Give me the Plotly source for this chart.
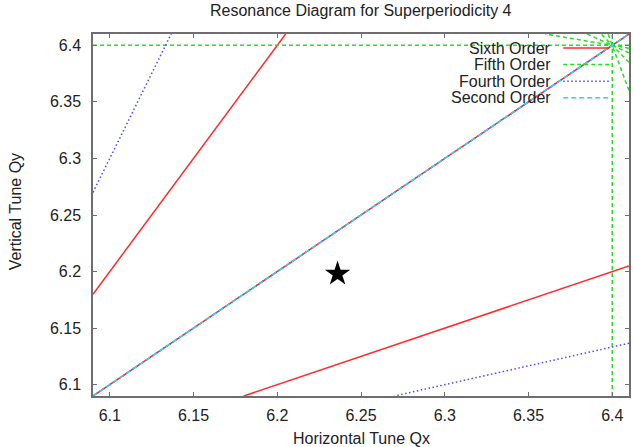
import plotly.graph_objects as go

# Tune window shown on both axes
QX_RANGE = [6.09, 6.41]
QY_RANGE = [6.09, 6.41]

# Resonance lines m*Qx + n*Qy = r for superperiodicity 4, grouped by order
SIXTH_ORDER = [(4, -2, 12), (2, -4, -12), (3, -3, 0)]
FIFTH_ORDER = [(5, 0, 32), (0, 5, 32), (4, 1, 32), (3, 2, 32), (2, 3, 32), (1, 4, 32)]
FOURTH_ORDER = [(3, -1, 12), (1, -3, -12), (2, -2, 0)]
SECOND_ORDER = [(1, -1, 0)]

# Working point
WORK_QX = [6.236]
WORK_QY = [6.198]

TICK_VALS = [6.1, 6.15, 6.2, 6.25, 6.3, 6.35, 6.4]
TICK_TEXT = ["6.1", "6.15", "6.2", "6.25", "6.3", "6.35", "6.4"]

ORDER_NAMES = ["Sixth Order", "Fifth Order", "Fourth Order", "Second Order"]
ORDER_LINES = [SIXTH_ORDER, FIFTH_ORDER, FOURTH_ORDER, SECOND_ORDER]
ORDER_STYLE = [
    dict(color="#ff2a2a", width=1.5, dash="solid"),
    dict(color="#22e022", width=1.5, dash="4px,3px"),
    dict(color="#4a4aff", width=1.5, dash="1.5px,2.5px"),
    dict(color="#2ad8ea", width=1.5, dash="5px,3px"),
]

FONT = "Liberation Sans, Arial, Helvetica, sans-serif"


def clip_line(m, n, r, xr, yr):
    """End points of m*x + n*y = r inside the box xr x yr."""
    pts = []
    if n != 0:
        for x in xr:
            y = (r - m * x) / n
            if yr[0] - 1e-12 <= y <= yr[1] + 1e-12:
                pts.append((x, y))
    if m != 0:
        for y in yr:
            x = (r - n * y) / m
            if xr[0] - 1e-12 <= x <= xr[1] + 1e-12:
                pts.append((x, y))
    uniq = []
    for p in pts:
        if all(abs(p[0] - q[0]) > 1e-9 or abs(p[1] - q[1]) > 1e-9 for q in uniq):
            uniq.append(p)
    return uniq[:2]


fig = go.Figure()

for name, lines, style in zip(ORDER_NAMES, ORDER_LINES, ORDER_STYLE):
    xs, ys = [], []
    for m, n, r in lines:
        seg = clip_line(m, n, r, QX_RANGE, QY_RANGE)
        if len(seg) == 2:
            xs += [seg[0][0], seg[1][0], None]
            ys += [seg[0][1], seg[1][1], None]
    fig.add_trace(go.Scatter(x=xs, y=ys, mode="lines", name=name,
                             line=style, showlegend=False, hoverinfo="skip"))

fig.add_trace(go.Scatter(x=WORK_QX, y=WORK_QY, mode="markers", showlegend=False,
                         marker=dict(symbol="star", size=19, color="black")))

# Plot-area geometry in pixels
W, H = 633, 447
L, R, T, B = 93, 2, 34, 51
PW, PH = W - L - R, H - T - B


def px_x(p):
    return (p - L) / PW


def px_y(p):
    return 1 - (p - T) / PH


# Key in the upper right: right-aligned labels followed by line samples
shapes = []
annotations = []
for i, (name, style) in enumerate(zip(ORDER_NAMES, ORDER_STYLE)):
    yy = px_y(48 + 16.6 * i)
    annotations.append(dict(text=name, x=px_x(555), y=yy, xref="paper", yref="paper",
                            xanchor="right", yanchor="middle", showarrow=False,
                            font=dict(family=FONT, size=16, color="#222")))
    shapes.append(dict(type="line", xref="paper", yref="paper",
                       x0=px_x(565), x1=px_x(611), y0=yy, y1=yy,
                       line=dict(color=style["color"], width=style["width"],
                                 dash=style["dash"])))

annotations.append(dict(text="Horizontal Tune Qx", x=0.5, y=px_y(438), xref="paper",
                        yref="paper", xanchor="center", yanchor="middle", showarrow=False,
                        font=dict(family=FONT, size=16, color="#222")))
annotations.append(dict(text="Vertical Tune Qy", x=px_x(15), y=px_y(212), xref="paper",
                        yref="paper", xanchor="center", yanchor="middle", showarrow=False,
                        textangle=-90, font=dict(family=FONT, size=16, color="#222")))
annotations.append(dict(text="Resonance Diagram for Superperiodicity 4", x=0.5, y=px_y(11),
                        xref="paper", yref="paper", xanchor="center", yanchor="middle",
                        showarrow=False, font=dict(family=FONT, size=16, color="#222")))

axis_common = dict(
    showgrid=False, zeroline=False, showline=True, linecolor="#6e6e6e", linewidth=1.5,
    mirror="ticks", ticks="inside", ticklen=4, tickwidth=1.2, tickcolor="#6e6e6e",
    tickvals=TICK_VALS, ticktext=TICK_TEXT,
    tickfont=dict(family=FONT, size=16, color="#222"),
)

fig.update_layout(
    width=W, height=H,
    margin=dict(l=L, r=R, t=T, b=B),
    paper_bgcolor="white", plot_bgcolor="white",
    xaxis=dict(range=QX_RANGE, ticklabelstandoff=4, **axis_common),
    yaxis=dict(range=QY_RANGE, ticklabelstandoff=7, **axis_common),
    shapes=shapes, annotations=annotations,
    showlegend=False,
)

fig.write_html("out.html")
